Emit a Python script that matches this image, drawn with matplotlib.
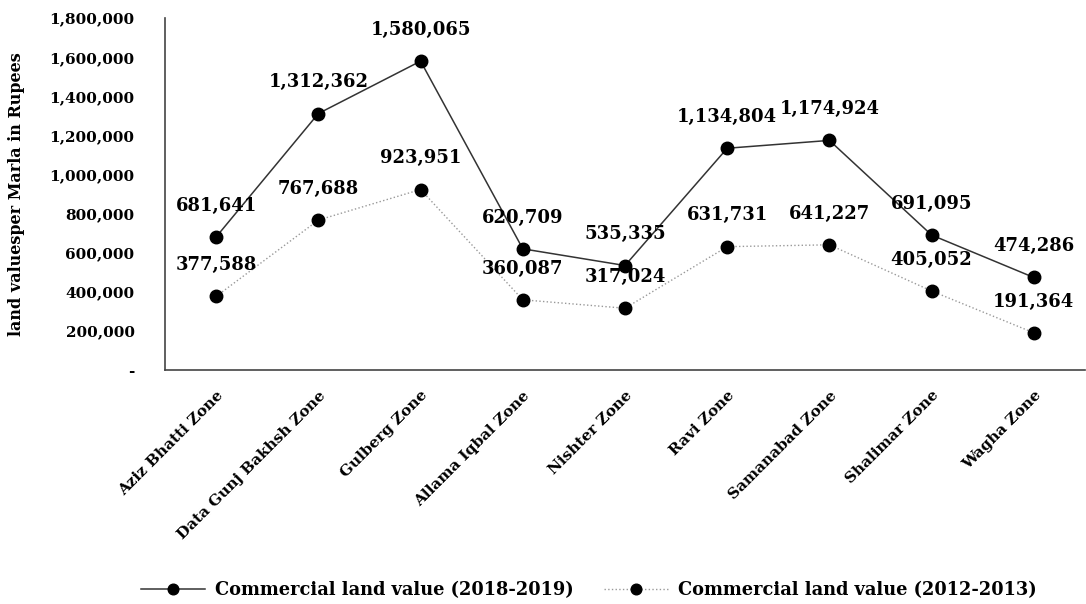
import matplotlib
matplotlib.use('Agg')
import matplotlib.pyplot as plt
from matplotlib.ticker import FuncFormatter

# Data
zones = ['Aziz Bhatti Zone', 'Data Gunj Bakhsh Zone', 'Gulberg Zone', 'Allama Iqbal Zone',
         'Nishter Zone', 'Ravi Zone', 'Samanabad Zone', 'Shalimar Zone', 'Wagha Zone']
value_2018 = [681641, 1312362, 1580065, 620709, 535335, 1134804, 1174924, 691095, 474286]
value_2012 = [377588, 767688, 923951, 360087, 317024, 631731, 641227, 405052, 191364]
yticks = [0, 200000, 400000, 600000, 800000, 1000000, 1200000, 1400000, 1600000, 1800000]

plt.rcParams['font.family'] = ['DejaVu Serif']
plt.rcParams['font.weight'] = 'bold'

fig = plt.figure(figsize=(10.86, 6.04), dpi=100)
ax = fig.add_axes([0.152, 0.387, 0.847, 0.583])

x = list(range(len(zones)))
ax.plot(x, value_2018, color='#333333', lw=1.1, marker='o', ms=9, mfc='black', mec='black',
        label='Commercial land value (2018-2019)')
ax.plot(x, value_2012, color='#999999', lw=1.0, ls=':', marker='o', ms=9, mfc='black', mec='black',
        label='Commercial land value (2012-2013)')

for xi, v in zip(x, value_2018):
    ax.annotate(f'{v:,}', (xi, v), xytext=(0, 16), textcoords='offset points',
                ha='center', va='bottom', fontsize=13, fontweight='bold')
for xi, v in zip(x, value_2012):
    ax.annotate(f'{v:,}', (xi, v), xytext=(0, 16), textcoords='offset points',
                ha='center', va='bottom', fontsize=13, fontweight='bold')

ax.set_xlim(-0.5, len(zones) - 0.5)
ax.set_ylim(0, 1800000)
ax.set_yticks(yticks)
ax.yaxis.set_major_formatter(FuncFormatter(lambda v, p: '-' if v == 0 else f'{int(v):,}'))
ax.set_xticks(x)
ax.set_xticklabels(zones, rotation=45, ha='right', rotation_mode='anchor', fontsize=11)
ax.tick_params(axis='y', length=0, pad=22, labelsize=11)
ax.tick_params(axis='x', length=0, pad=13)
for s in ['top', 'right']:
    ax.spines[s].set_visible(False)
for s in ['left', 'bottom']:
    ax.spines[s].set_color('#444444')
    ax.spines[s].set_linewidth(1.2)

ax.set_ylabel('land valuesper Marla in Rupees', fontsize=11.5, fontweight='bold')
ax.yaxis.set_label_coords(-0.152, 0.5)

fig.legend(loc='lower center', bbox_to_anchor=(0.542, -0.018), ncol=2, frameon=False,
           fontsize=12.8, handlelength=3.6, handletextpad=0.55, columnspacing=1.7,
           markerscale=0.85)

fig.savefig('out.png', dpi=100)
